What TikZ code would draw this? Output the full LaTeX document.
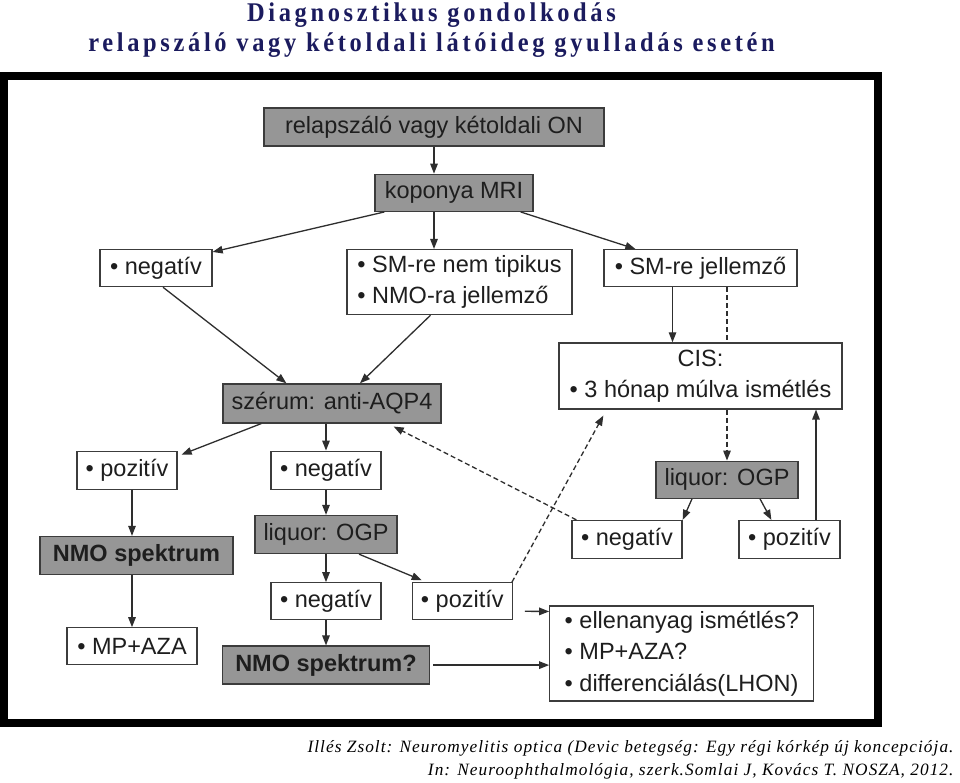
\documentclass[tikz,border=0pt]{standalone}
\usepackage{fontspec}
\usepackage{xcolor}
\usepackage{tikz}
\usetikzlibrary{arrows.meta,positioning}
\setmainfont{Liberation Sans}
\newfontfamily\titlefont[LetterSpace=15]{Liberation Serif}
\newfontfamily\citefont[LetterSpace=6]{Liberation Serif}
\definecolor{titlenavy}{HTML}{1B1B5E}
\definecolor{boxgray}{HTML}{969696}
\definecolor{boxline}{HTML}{3C3C3C}
\definecolor{edgegray}{HTML}{2E2E2E}
\definecolor{textdark}{HTML}{1E1E1E}
\tikzset{
  findnode/.style={draw=boxline, fill=white, line width=1.3pt, text=textdark, align=left, font=\fontsize{23.5}{31}\selectfont, inner sep=2pt, minimum height=37pt},
  testnode/.style={findnode, fill=boxgray},
  boldnode/.style={testnode, font=\fontsize{23.5}{31}\selectfont\bfseries},
  edge/.style={-{Triangle[length=10pt,width=7.5pt]}, line width=1.3pt, draw=edgegray},
  dashededge/.style={edge, dash pattern=on 5pt off 3pt},
  dashedline/.style={line width=1.3pt, draw=edgegray, dash pattern=on 5pt off 3pt}
}
\begin{document}
\begin{tikzpicture}[x=1pt, y=1pt]
  \useasboundingbox[fill=white] (0,0) rectangle (960,-782);
  \node[font=\titlefont\bfseries\fontsize{27}{30}\selectfont, text=titlenavy, xscale=0.905, anchor=base] (title) at (431.5,-21) {Diagnosztikus gondolkodás};
  \node[font=\titlefont\bfseries\fontsize{27}{30}\selectfont, text=titlenavy, xscale=0.905, anchor=base] (subtitle) at (431.5,-51) {relapszáló vagy kétoldali látóideg gyulladás esetén};
  \draw[line width=8pt] (4,-76) rectangle (878,-723);
  \node[testnode, minimum width=340pt, minimum height=38pt] (onset) at (434,-127) {relapszáló vagy kétoldali ON};
  \node[testnode, minimum width=158pt, below=27pt of onset, xshift=20pt] (mri) {koponya MRI};
  \node[findnode, minimum width=225pt, minimum height=65pt, below=37pt of mri, xshift=5.5pt] (atypical) {• SM-re nem tipikus\\• NMO-ra jellemző};
  \node[findnode, minimum width=112pt, below=37pt of mri, xshift=-298pt] (mrineg) {• negatív};
  \node[findnode, minimum width=193pt, below=37pt of mri, xshift=246.5pt] (typical) {• SM-re jellemző};
  \node[findnode, minimum width=283pt, minimum height=66pt, align=center, below=55pt of typical] (cis) {CIS:\\• 3 hónap múlva ismétlés};
  \node[testnode, minimum width=218pt, minimum height=39pt, below=68pt of atypical, xshift=-127.5pt] (aqp) {szérum: anti-AQP4};
  \node[findnode, minimum width=100pt, minimum height=38pt, below=27pt of aqp, xshift=-205pt] (aqppos) {• pozitív};
  \node[findnode, minimum width=110pt, minimum height=38pt, below=27pt of aqp, xshift=-6pt] (aqpneg) {• negatív};
  \node[testnode, minimum width=142pt, below=51pt of cis, xshift=26.5pt] (ogpcis) {liquor: OGP};
  \node[findnode, minimum width=110pt, minimum height=38pt, below=21pt of ogpcis, xshift=-100pt] (cisneg) {• negatív};
  \node[findnode, minimum width=101pt, minimum height=38pt, below=21pt of ogpcis, xshift=62.5pt] (cispos) {• pozitív};
  \node[testnode, minimum width=142pt, minimum height=38pt, below=25pt of aqpneg] (ogp) {liquor: OGP};
  \node[boldnode, minimum width=193pt, minimum height=38pt, below=46pt of aqppos, xshift=9.5pt] (nmo) {NMO spektrum};
  \node[findnode, minimum width=130pt, below=52pt of nmo, xshift=-4.5pt] (mpaza) {• MP+AZA};
  \node[findnode, minimum width=110pt, below=28pt of ogp] (ogpneg) {• negatív};
  \node[findnode, minimum width=100pt, right=30pt of ogpneg] (ogppos) {• pozitív};
  \node[boldnode, minimum width=207pt, minimum height=38pt, below=25pt of ogpneg] (nmoq) {NMO spektrum?};
  \node[findnode, minimum width=264pt, minimum height=95pt, font=\fontsize{23.5}{31.5}\selectfont, right=119pt of nmoq, yshift=11.5pt] (advice) {• ellenanyag ismétlés?\\• MP+AZA?\\• differenciálás(LHON)};
  \node[font=\citefont\itshape\fontsize{17.3}{20}\selectfont, anchor=base east] (cite) at (957,-752) {Illés Zsolt: Neuromyelitis optica (Devic betegség: Egy régi kórkép új koncepciója.};
  \node[font=\citefont\itshape\fontsize{17.3}{20}\selectfont, anchor=base east] (source) at (957,-775) {In: Neuroophthalmológia, szerk.Somlai J, Kovács T. NOSZA, 2012.};
  \draw[edge] (onset) -- (onset |- mri.north);
  \draw[edge] ([xshift=10pt]mri.south west) -- ([yshift=-3pt]mrineg.north east);
  \draw[edge] (onset |- mri.south) -- (onset |- atypical.north);
  \draw[edge] ([xshift=-13pt]mri.south east) -- ([xshift=32pt]typical.north west);
  \draw[edge] ([xshift=7pt]mrineg.south) -- ([xshift=64pt]aqp.north west);
  \draw[edge] ([xshift=-29pt]atypical.south) -- ([xshift=28pt]aqp.north);
  \draw[edge] ([xshift=-28pt]typical.south) -- ([xshift=-28pt]typical.south |- cis.north);
  \draw[dashedline] (ogpcis.north |- typical.south) -- (ogpcis.north |- cis.north);
  \draw[dashededge] (ogpcis.north |- cis.south) -- (ogpcis.north);
  \draw[edge] ([xshift=39pt]aqp.south west) -- ([xshift=4pt,yshift=-4pt]aqppos.north east);
  \draw[edge] (aqp.south -| aqpneg.north) -- (aqpneg.north);
  \draw[dashededge] ([xshift=5pt]cisneg.north west) -- ([xshift=-48pt,yshift=-3pt]aqp.south east);
  \draw[edge] ([xshift=-35pt]ogpcis.south) -- (cisneg.north east);
  \draw[edge] ([xshift=33pt]ogpcis.south) -- ([xshift=33pt]cispos.north west);
  \draw[edge] ([xshift=26.5pt]cispos.north) -- ([xshift=26.5pt]cispos.north |- cis.south);
  \draw[edge] (aqppos.south -| mpaza.north) -- (nmo.north -| mpaza.north);
  \draw[edge] (nmo.south -| mpaza.north) -- (mpaza.north);
  \draw[edge] (aqpneg) -- (ogp);
  \draw[edge] (ogp) -- (ogpneg);
  \draw[edge] ([xshift=33pt]ogp.south) -- ([xshift=10pt,yshift=2pt]ogppos.north west);
  \draw[edge] (ogpneg) -- (nmoq);
  \draw[dashededge] ([xshift=-1pt]ogppos.north east) -- ([xshift=45pt,yshift=-6pt]cis.south west);
  \draw[edge] ([xshift=12pt,yshift=-10pt]ogppos.east) -- ([yshift=-6pt]advice.north west);
  \draw[edge] ([xshift=3pt]nmoq.east) -- (nmoq.east -| advice.west);
\end{tikzpicture}
\end{document}
